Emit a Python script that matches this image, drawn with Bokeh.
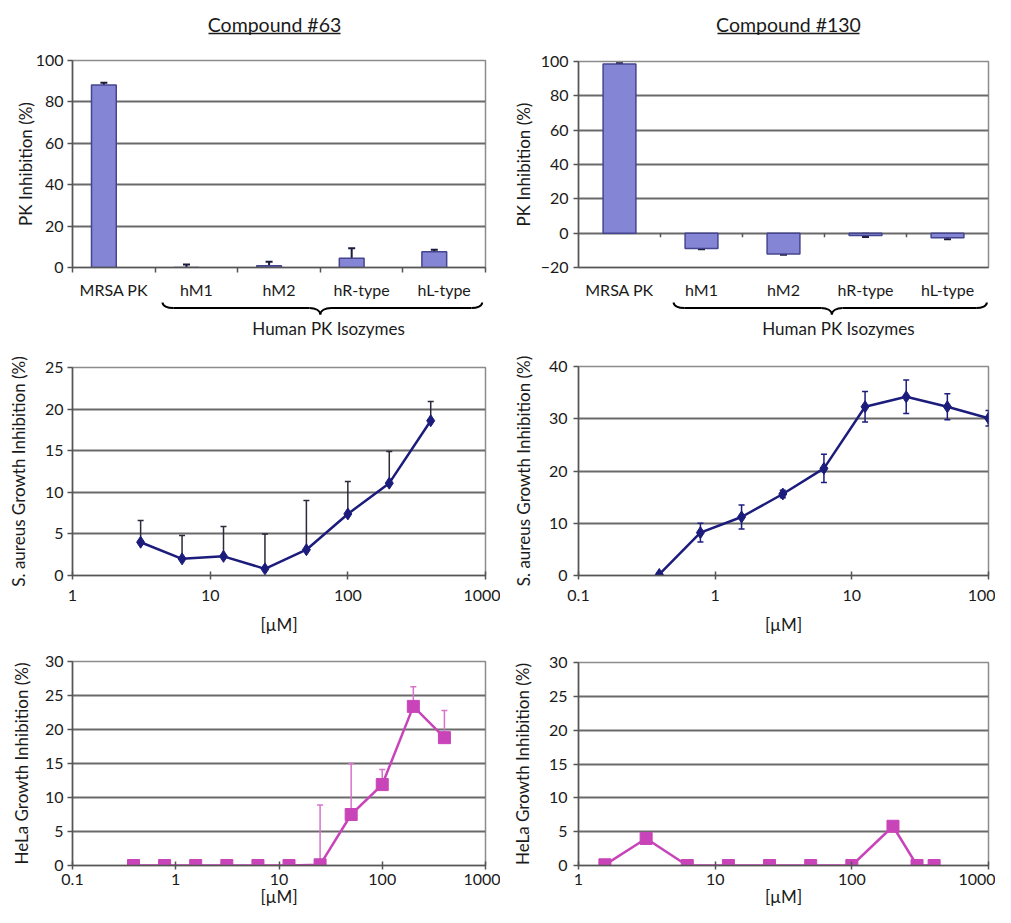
import numpy as np
from bokeh.plotting import figure
from bokeh.layouts import column, row
from bokeh.models import (Range1d, FixedTicker, NumeralTickFormatter, Whisker,
                          ColumnDataSource, TeeHead)
from bokeh.core.properties import value
from bokeh.embed import file_html
from bokeh.resources import INLINE

FONT = "Lato"

# ---------------- data ----------------
titles = ["Compound #63", "Compound #130"]
categories = ["MRSA PK", "hM1", "hM2", "hR-type", "hL-type"]
group_label = "Human PK Isozymes"

pk63 = [88.2, -1.0, 0.8, 4.5, 7.6]
pk63_err = [1.0, 2.5, 2.0, 4.8, 1.0]
pk130 = [98.5, -8.9, -12.2, -1.3, -2.6]
pk130_err = [0.5, 0.4, 0.4, 1.0, 1.0]

sa63_conc = [3.125, 6.25, 12.5, 25, 50, 100, 200, 400]
sa63 = [4.0, 2.0, 2.3, 0.8, 3.1, 7.4, 11.1, 18.6]
sa63_err = [2.6, 2.8, 3.6, 4.2, 5.9, 3.9, 3.8, 2.3]

sa130_conc = [0.39, 0.78, 1.56, 3.125, 6.25, 12.5, 25, 50, 100]
sa130 = [0.2, 8.2, 11.2, 15.6, 20.5, 32.3, 34.2, 32.3, 30.1]
sa130_err = [0.0, 1.8, 2.3, 0.7, 2.7, 2.9, 3.2, 2.5, 1.5]

hela63_conc = [0.39, 0.78, 1.56, 3.125, 6.25, 12.5, 25, 50, 100, 200, 400]
hela63 = [0, 0, 0, 0, 0, 0, 0.1, 7.5, 11.9, 23.4, 18.8]
hela63_err = [0, 0, 0, 0, 0, 0, 8.8, 7.5, 2.2, 2.9, 4.0]

hela130_conc = [1.56, 3.125, 6.25, 12.5, 25, 50, 100, 200, 300, 400]
hela130 = [0.1, 4.0, 0, 0, 0, 0, 0, 5.8, 0, 0]

BAR_FILL = "#8585d6"
BAR_LINE = "#45458f"
NAVY = "#1c1c7c"
MAGENTA = "#c844b8"
GRID = "#6a6a6a"
AXIS = "#555555"
TXT = "#1a1a1a"


def make_fig(frame_w, frame_h, left, right, top, bottom, axes=True, **kw):
    extra = {} if axes else dict(x_axis_location=None, y_axis_location=None)
    p = figure(frame_width=frame_w, frame_height=frame_h,
               min_border_left=left, min_border_right=right,
               min_border_top=top, min_border_bottom=bottom,
               toolbar_location=None, output_backend="svg", **extra, **kw)
    p.background_fill_color = "white"
    p.border_fill_color = "white"
    if not axes:
        p.grid.visible = False
        p.outline_line_color = None
    return p


def style(p, ylab, xlab=None, ytick_stand=3, ylab_stand=3,
          xtick_stand=8, xlab_stand=6):
    for ax in (p.xaxis[0], p.yaxis[0]):
        ax.major_label_text_font = FONT
        ax.major_label_text_font_size = "16px"
        ax.major_label_text_color = TXT
        ax.axis_label_text_font = FONT
        ax.axis_label_text_font_size = "17px"
        ax.axis_label_text_font_style = "normal"
        ax.axis_label_text_color = TXT
        ax.axis_line_color = AXIS
        ax.axis_line_width = 1.5
        ax.major_tick_line_color = AXIS
        ax.major_tick_line_width = 1.5
        ax.minor_tick_line_color = None
    p.yaxis.axis_label = ylab
    p.yaxis.major_tick_out = 5
    p.yaxis.major_tick_in = 0
    p.yaxis.major_label_standoff = ytick_stand
    p.yaxis.axis_label_standoff = ylab_stand
    if xlab:
        p.xaxis.axis_label = xlab
    p.xaxis.major_label_standoff = xtick_stand
    p.xaxis.axis_label_standoff = xlab_stand
    p.xgrid.visible = False
    p.ygrid.grid_line_color = GRID
    p.ygrid.grid_line_width = 2
    p.outline_line_color = "#8c8c8c"
    p.outline_line_width = 1.5


def bar_fig(vals, errs, yr, yticks, frame_w, frame_h, left, right, top, bottom,
            width, offset, ylab_stand, ytick_stand, zero_ticks):
    n = len(categories)
    p = make_fig(frame_w, frame_h, left, right, top, bottom,
                 x_range=Range1d(0, n), y_range=Range1d(*yr))
    centers = np.arange(n) + 0.5
    xs = centers + offset
    v = np.array(vals, dtype=float)
    e = np.array(errs, dtype=float)
    src = ColumnDataSource(dict(x=xs, top=v, upper=v + e, lower=v - e))
    p.vbar(x="x", top="top", bottom=0, width=width, source=src,
           fill_color=BAR_FILL, line_color=BAR_LINE, line_width=1.5)
    w = Whisker(source=src, base="x", upper="upper", lower="lower",
                line_color="#1a1a3a", line_width=2,
                upper_head=TeeHead(size=7, line_color="#1a1a3a", line_width=2),
                lower_head=TeeHead(size=7, line_color="#1a1a3a", line_width=2))
    p.add_layout(w)
    style(p, "PK Inhibition (%)", ytick_stand=ytick_stand, ylab_stand=ylab_stand,
          xtick_stand=7)
    p.yaxis.ticker = FixedTicker(ticks=yticks)
    p.xaxis.ticker = FixedTicker(ticks=list(centers), minor_ticks=list(range(n + 1)))
    p.xaxis.major_label_overrides = {float(c): lab for c, lab in zip(centers, categories)}
    p.xaxis.major_tick_out = 0
    p.xaxis.major_tick_in = 0
    p.xaxis.major_tick_line_color = None
    p.xaxis.minor_tick_out = 5
    p.xaxis.minor_tick_in = 0
    if zero_ticks:
        b = np.arange(1, n)
        p.segment(x0=b, y0=0, x1=b, y1=-(yr[1] - yr[0]) * 0.02,
                  line_color=AXIS, line_width=1.5)
    else:
        p.xaxis.minor_tick_line_color = AXIS
        p.xaxis.minor_tick_line_width = 1.5
    return p


def brace_fig(bar, left, right, height, xl, xm, xr, xt):
    p = make_fig(bar.frame_width, height, left, right, 0, 0, axes=False,
                 x_range=bar.x_range, y_range=Range1d(height, 0))
    r = 0.13
    yt, ym, yb = 1, 6.5, 13
    p.bezier(x0=[xl, xm - r, xm, xr - r], y0=[yt, ym, yb, ym],
             x1=[xl + r, xm, xm + r, xr], y1=[ym, yb, ym, yt],
             cx0=[xl, xm - 0.45 * r, xm, xr - 0.45 * r], cy0=[4.5, ym, 9, ym],
             cx1=[xl + 0.45 * r, xm, xm + 0.45 * r, xr], cy1=[ym, 9, ym, 4.5],
             line_color="black", line_width=2)
    p.segment(x0=[xl + r, xm + r], y0=[ym, ym], x1=[xm - r, xr - r], y1=[ym, ym],
              line_color="black", line_width=2)
    p.text(x=[xt], y=[27], text=[group_label], text_font=value(FONT),
           text_font_size="17px", text_align="center", text_baseline="middle",
           text_color=TXT)
    return p


def line_fig(conc, vals, errs, both, xr, xticks, yr, yticks, ylab, color, marker,
             msize, frame_w, frame_h, left, right, top, bottom,
             ylab_stand, ytick_stand, xtick_stand, xlab_stand, err_color):
    p = make_fig(frame_w, frame_h, left, right, top, bottom,
                 x_axis_type="log", x_range=Range1d(*xr), y_range=Range1d(*yr))
    v = np.array(vals, dtype=float)
    e = np.array(errs, dtype=float)
    src = ColumnDataSource(dict(x=conc, y=v, upper=v + e, lower=(v - e) if both else v))
    if e.any():
        w = Whisker(source=src, base="x", upper="upper", lower="lower",
                    line_color=err_color, line_width=1.5,
                    upper_head=TeeHead(size=6, line_color=err_color, line_width=1.5),
                    lower_head=TeeHead(size=6, line_color=err_color, line_width=1.5) if both else None)
        p.add_layout(w)
    p.line("x", "y", source=src, line_color=color, line_width=2.5)
    p.scatter("x", "y", source=src, marker=marker, size=msize,
              fill_color=color, line_color=color)
    style(p, ylab, "[µM]", ytick_stand=ytick_stand, ylab_stand=ylab_stand,
          xtick_stand=xtick_stand, xlab_stand=xlab_stand)
    p.yaxis.ticker = FixedTicker(ticks=yticks)
    p.xaxis.ticker = FixedTicker(ticks=xticks, minor_ticks=[])
    p.xaxis.formatter = NumeralTickFormatter(format="0.[0]")
    p.xaxis.major_tick_in = 4
    p.xaxis.major_tick_out = 4
    return p


# ---------------- header ----------------
hdr = make_fig(995, 46, 0, 0, 0, 0, axes=False,
               x_range=Range1d(0, 995), y_range=Range1d(46, 0))
hdr.text(x=[274, 788], y=[24, 24], text=titles, text_font=value(FONT),
         text_font_size="19.5px", text_align="center", text_baseline="middle",
         text_color=TXT)
hdr.segment(x0=[208, 717], y0=[33, 33], x1=[340, 859], y1=[33, 33],
            line_color=TXT, line_width=1.3)

# ---------------- left column (frames at x 72..485) ----------------
LW, LL, LR = 413, 72, 15
tl = bar_fig(pk63, pk63_err, (0, 100), [0, 20, 40, 60, 80, 100],
             LW, 207, LL, LR, 14, 34, width=0.3, offset=-0.12,
             ylab_stand=-3, ytick_stand=4, zero_ticks=False)
tlb = brace_fig(tl, LL, LR, 39, 1.09, 3.0, 4.96, 3.1)
ml = line_fig(sa63_conc, sa63, sa63_err, False, (1, 1000), [1, 10, 100, 1000],
              (0, 25), [0, 5, 10, 15, 20, 25], "S. aureus Growth Inhibition (%)",
              NAVY, "diamond", 12, LW, 208, LL, LR, 27, 63,
              ylab_stand=13, ytick_stand=4, xtick_stand=10, xlab_stand=10,
              err_color="#2a2a3a")
bl = line_fig(hela63_conc, hela63, hela63_err, False, (0.1, 1000),
              [0.1, 1, 10, 100, 1000], (0, 30), [0, 5, 10, 15, 20, 25, 30],
              "HeLa Growth Inhibition (%)", MAGENTA, "square", 12,
              LW, 204, LL, LR, 23, 48,
              ylab_stand=10, ytick_stand=4, xtick_stand=4, xlab_stand=-2,
              err_color="#d872cc")

# ---------------- right column (frames at x 578..988) ----------------
RW, RL, RR = 410, 78, 7
tr = bar_fig(pk130, pk130_err, (-20, 100), [-20, 0, 20, 40, 60, 80, 100],
             RW, 206, RL, RR, 15, 34, width=0.4, offset=0.0,
             ylab_stand=4, ytick_stand=5, zero_ticks=True)
trb = brace_fig(tr, RL, RR, 39, 1.16, 3.09, 4.98, 3.17)
mr = line_fig(sa130_conc, sa130, sa130_err, True, (0.1, 100), [0.1, 1, 10, 100],
              (0, 40), [0, 10, 20, 30, 40], "S. aureus Growth Inhibition (%)",
              NAVY, "diamond", 12, RW, 209, RL, RR, 26, 63,
              ylab_stand=12, ytick_stand=6, xtick_stand=10, xlab_stand=10,
              err_color=NAVY)
br = line_fig(hela130_conc, hela130, [0] * len(hela130), False, (1, 1000),
              [1, 10, 100, 1000], (0, 30), [0, 5, 10, 15, 20, 25, 30],
              "HeLa Growth Inhibition (%)", MAGENTA, "square", 12,
              RW, 203, RL, RR, 24, 48,
              ylab_stand=13, ytick_stand=6, xtick_stand=4, xlab_stand=-2,
              err_color="#e8c0e2")

layout = column(hdr, row(column(tl, tlb, ml, bl), column(tr, trb, mr, br)))

open("out.html", "w").write(file_html(layout, INLINE))
